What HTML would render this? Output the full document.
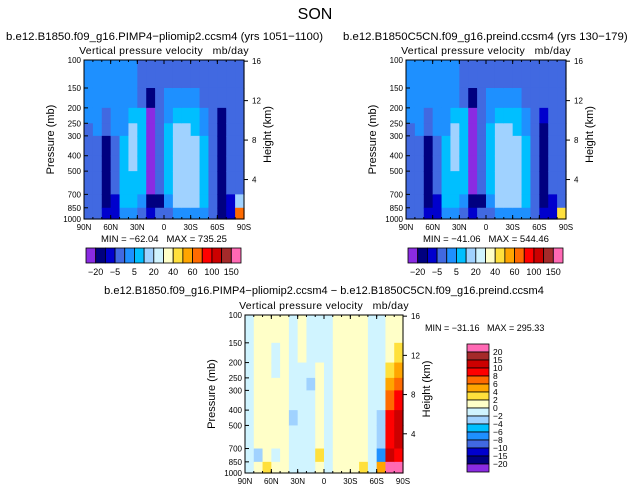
<!DOCTYPE html>
<html><head><meta charset="utf-8"><style>
body{margin:0;background:#fff;}
svg{display:block;font-family:"Liberation Sans",sans-serif;}
text{white-space:pre;}
</style></head><body>
<svg id="s" width="631" height="493" xmlns="http://www.w3.org/2000/svg">
<text x="315" y="19" font-size="16" text-anchor="middle">SON</text>
</svg>
<script>
const lats=[85,75,65,55,45,35,25,15,5,-5,-15,-25,-35,-45,-55,-65,-75,-85];
const levels=[100,150,200,250,300,400,500,700,850,1000];
const pTicks=[100,150,200,250,300,400,500,700,850,1000];
const kmTicks=[4,8,12,16];
const latTicks=["90N","60N","30N","0","30S","60S","90S"];
const palette=["#8a2be2","#000080","#0000cd","#4169e1","#1e90ff","#00bfff","#a0d2ff","#d0f4ff","#ffffc8","#ffe03c","#ffa500","#ff6a00","#ff0000","#cc0000","#a52a2a","#ff69b4"];
const thrTop=[-20,-10,-5,0,5,10,20,30,40,50,60,80,100,120,150];
const thrTopLabels=["-20","-5","5","20","40","60","100","150"];
const thrDiff=[-20,-15,-10,-8,-6,-4,-2,0,2,4,6,8,10,15,20];
const thrDiffLabels=["20","15","10","8","6","4","2","0","-2","-4","-6","-8","-10","-15","-20"];
const fieldA=[
[2,2,2,-2,-2,-2,-2,-2,-3],[2,2,2,2,-2,-2,-2,-3,-3],[2,2,-2,-2,-12,-12,-12,-12,-8],
[2,2,2,2,-2,-2,-3,-6,-8],[2,2,2,3,7,7,7,7,3],[2,2,7,15,15,15,7,7,3],
[-2,-2,7,7,7,7,7,3,-2],[-2,-12,-25,-25,-25,-25,-25,-12,-8],[-2,-2,-2,-2,-2,-2,-2,-12,-3],
[-2,2,2,7,7,7,7,3,-2],[-2,2,7,15,15,15,15,15,3],[-2,2,7,15,15,15,15,15,3],
[-2,2,7,7,15,15,15,15,3],[-2,-2,2,2,7,7,7,7,2],[-2,-2,-2,-3,-3,-3,-3,-3,-3],
[-2,-2,-12,-12,-15,-15,-15,-15,-12],[-2,-2,-2,-2,-2,-2,-2,-8,-8],[-2,-2,-2,-2,-2,-2,-3,10,60]];
const fieldB=[
[2,2,2,-2,-2,-2,-2,-2,-3],[2,2,2,2,-2,-2,-2,-3,-3],[2,2,-2,-2,-12,-12,-12,-12,-8],
[2,2,2,2,-2,-2,-3,-6,-8],[2,2,2,3,7,7,7,7,3],[2,2,7,15,15,15,7,7,3],
[-2,-2,7,7,7,7,7,3,-2],[-2,-12,-25,-25,-25,-25,-25,-12,-8],[-2,-2,-2,-2,-2,-2,-2,-12,-3],
[-2,2,2,7,7,7,7,3,-2],[-2,2,7,15,15,15,15,15,3],[-2,2,7,15,15,15,15,15,3],
[-2,2,7,7,15,15,15,15,3],[-2,-2,2,2,7,7,7,7,2],[-2,-2,-2,-3,-3,-3,-3,-3,-3],
[-2,-2,-8,-12,-12,-12,-12,-12,-8],[-2,-2,-2,-2,-2,-2,-2,-6,-8],[-2,-2,-2,-2,-2,-2,-3,-2,40]];
const fieldD=[
[-1,-1,-1,-1,-1,-1,-1,-1,-1],[1,1,1,1,1,1,1,-3,1],[1,1,1,1,1,1,1,1,3],
[1,-1,-1,1,1,1,1,-1,1],[1,1,1,1,1,1,1,1,1],[-1,-1,-1,-1,-1,-3,-1,-1,-1],
[1,1,-1,-1,-1,-1,-1,-1,-1],[-1,-1,-1,-3,-1,-1,-1,-1,-1],[-1,-1,1,1,1,1,1,3,1],
[-1,-1,-1,-1,-1,-1,-1,-1,-1],[1,1,1,1,1,1,1,1,1],[1,1,1,1,1,1,1,1,1],
[1,1,1,1,1,1,1,1,1],[1,1,1,1,1,1,1,1,3],[-1,-1,-1,-1,-1,-1,-1,-1,-1],
[-1,-1,-1,-1,-1,-3,-3,-8,5],[1,1,3,5,7,9,9,12,25],[1,3,5,7,9,12,12,9,25]];

const NS="http://www.w3.org/2000/svg";
const svg=document.getElementById('s');
function el(tag,attrs,parent){const e=document.createElementNS(NS,tag);for(const k in attrs)e.setAttribute(k,attrs[k]);(parent||svg).appendChild(e);return e;}
function txt(x,y,s,size,anchor,parent){const t=el('text',{x:x,y:y,'font-size':size,'text-anchor':anchor||'start'},parent);t.textContent=s;return t;}
function colorOf(v,thr){let i=0;while(i<thr.length&&v>=thr[i])i++;return palette[i];}

function panel(name,L,T,W,H,field,thr,title,titleX,titleAnchor,titleY,titleSize){
  const g=el('g',{});
  
  
  const xOf=lat=>L+(90-lat)/180*W;
  const yOf=p=>T+(Math.log10(p)-2)*H;
  const tt=txt(titleX,titleY,title,titleSize,titleAnchor,g);
  
  
  const st=txt(L+W/2,T-6,"Vertical pressure velocity   mb/day",10.5,'middle',g);
  st.setAttribute('letter-spacing','0.3');
  
  
  for(let i=0;i<lats.length;i++){
    for(let j=0;j<levels.length-1;j++){
      const x0=xOf(lats[i]+5),x1=xOf(lats[i]-5),y0=yOf(levels[j]),y1=yOf(levels[j+1]);
      const r=el('rect',{x:x0,y:y0,width:x1-x0+0.6,height:y1-y0+0.6,fill:colorOf(field[i][j],thr)},g);
      
      
    }
  }
  const f=el('rect',{x:L,y:T,width:W,height:H,fill:'none',stroke:'#000','stroke-width':1},g);
  
  
  pTicks.forEach(p=>{const y=yOf(p);el('line',{x1:L,x2:L+4,y1:y,y2:y,stroke:'#000'},g);
    const t=txt(L-3,y+3,String(p),8,'end',g);});
  kmTicks.forEach(k=>{const y=yOf(1000*Math.exp(-k/7));el('line',{x1:L+W,x2:L+W+4,y1:y,y2:y,stroke:'#000'},g);
    const t=txt(L+W+8,y+3,String(k),8,'start',g);});
  latTicks.forEach((s,i)=>{const x=L+i*W/6;el('line',{x1:x,x2:x,y1:T+H,y2:T+H-4,stroke:'#000'},g);el('line',{x1:x,x2:x,y1:T,y2:T+4,stroke:'#000'},g);
    const t=txt(x,T+H+11,s,8,'middle',g);});
  for(let i=0;i<18;i++){const x=L+i*W/18;el('line',{x1:x,x2:x,y1:T+H,y2:T+H-2,stroke:'#000'},g);el('line',{x1:x,x2:x,y1:T,y2:T+2,stroke:'#000'},g);}
  const yl=txt(0,0,"Pressure (mb)",11,'middle',g);
  yl.setAttribute('transform','translate('+(L-30)+','+(T+H/2)+') rotate(-90)');
  
  
  const yr=txt(0,0,"Height (km)",11,'middle',g);
  yr.setAttribute('transform','translate('+(L+W+27)+','+(T+H/2-5)+') rotate(-90)');
  
  
  return g;
}
function hbar(name,L,T,W,H,labels){
  const g=el('g',{});
  
  
  const n=palette.length,bw=W/n;
  palette.forEach((c,i)=>{const r=el('rect',{x:L+i*bw,y:T,width:bw,height:H,fill:c,stroke:'#000','stroke-width':0.8},g);
    });
  labels.forEach((s,k)=>{const t=txt(L+(2*k+1)*bw,T+H+12,s.replace('-','\u2212'),9,'middle',g);});
}
panel('left-panel',84,60,160,159,fieldA,thrTop,"b.e12.B1850.f09_g16.PIMP4\u2212pliomip2.ccsm4 (yrs 1051\u22121100)",6,'start',40,11.4);
const m1=txt(164,242,"MIN = \u221262.04   MAX = 735.25",9.5,'middle');


hbar('left-colorbar',86,248,155,15,thrTopLabels);
panel('right-panel',406,60,160,159,fieldB,thrTop,"b.e12.B1850C5CN.f09_g16.preind.ccsm4 (yrs 130\u2212179)",343,'start',40,11.4);
const m2=txt(486,242,"MIN = \u221241.06   MAX = 544.46",9.5,'middle');


hbar('right-colorbar',408,248,155,15,thrTopLabels);
panel('diff-panel',245,315,158,158,fieldD,thrDiff,"b.e12.B1850.f09_g16.PIMP4\u2212pliomip2.ccsm4 \u2212 b.e12.B1850C5CN.f09_g16.preind.ccsm4",324,'middle',294,11);
const m3=txt(425,331,"MIN = \u221231.16   MAX = 295.33",9,'start');


const vb=el('g',{});


const rev=palette.slice().reverse();
rev.forEach((c,i)=>{const r=el('rect',{x:467,y:344+i*8,width:22,height:8,fill:c,stroke:'#000','stroke-width':0.8},vb);
  });
thrDiffLabels.forEach((s,i)=>{const t=txt(493,355+i*8,s.replace('-','\u2212'),8.5,'start',vb);
  });
</script>
</body></html>
